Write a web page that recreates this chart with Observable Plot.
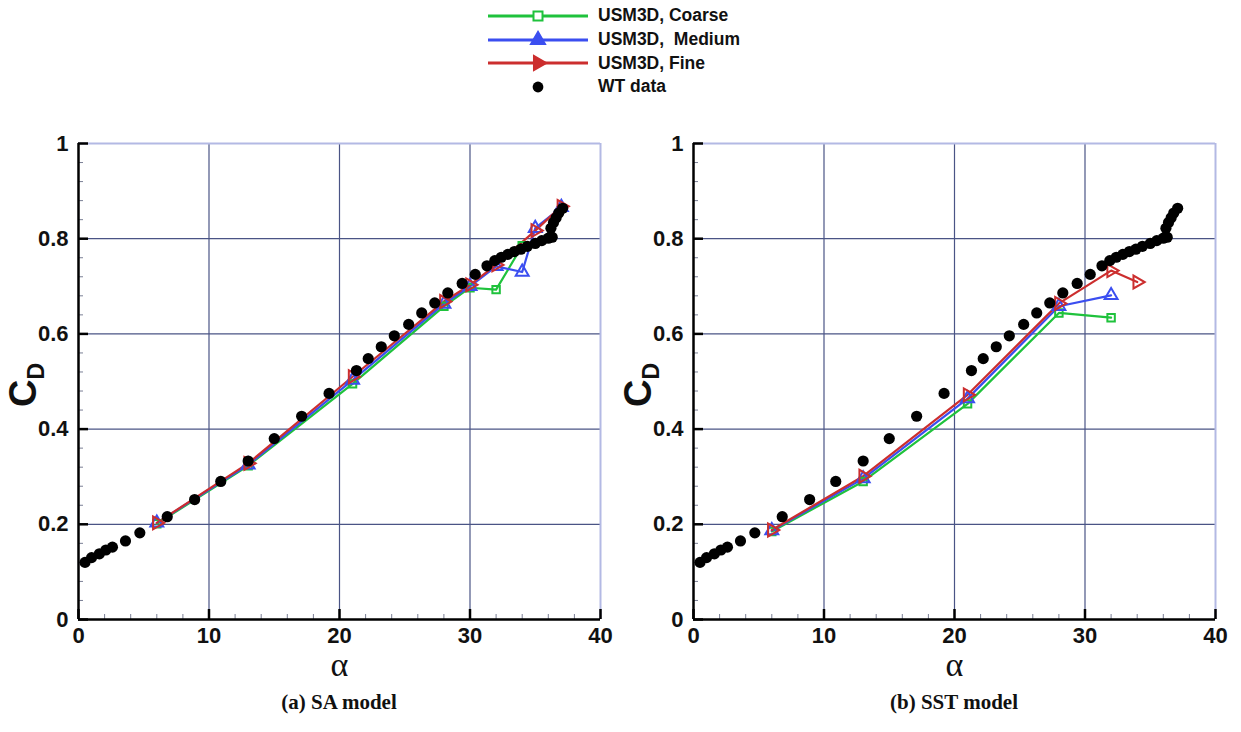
<!DOCTYPE html>
<html><head><meta charset="utf-8">
<script src="https://cdn.jsdelivr.net/npm/d3@7"></script>
<script src="https://cdn.jsdelivr.net/npm/@observablehq/plot@0.6"></script>
<style>
body{margin:0;background:#fff;width:1241px;height:732px;position:relative;overflow:hidden;font-family:"Liberation Sans",Arial,sans-serif;}
#legend{position:absolute;left:488px;top:4px;}
.row{display:flex;align-items:center;height:23.7px;}
.row span{font-weight:bold;font-size:17.5px;white-space:pre;color:#111;margin-left:10px}
.panel{position:absolute;top:120px;}
.cap{position:absolute;top:690px;font-family:"Liberation Serif","Times New Roman",serif;font-weight:bold;font-size:21px;transform:translateX(-50%);white-space:nowrap;color:#111}
</style></head><body>
<div id="legend"></div>
<div id="left" class="panel" style="left:0"></div>
<div id="right" class="panel" style="left:615px"></div>
<div class="cap" style="left:339px">(a) SA model</div>
<div class="cap" style="left:954px">(b) SST model</div>
<script>
// ---- data ----
const seriesNames = ["USM3D, Coarse", "USM3D,  Medium", "USM3D, Fine", "WT data"];
const xTicks = [0, 10, 20, 30, 40];
const yTicks = [0, 0.2, 0.4, 0.6, 0.8, 1];

const wtAlpha = [0.5,1.0,1.6,2.1,2.6,3.6,4.7,6.8,8.9,10.9,13.0,15.0,17.1,19.2,21.3,22.2,23.2,24.2,25.3,26.3,27.3,28.3,29.4,30.4,31.3,31.9,32.4,32.9,33.4,33.9,34.4,35.0,35.5,36.0,36.3,36.2,36.4,36.6,36.8,37.1];
const wtCD    = [0.120,0.130,0.138,0.146,0.152,0.165,0.182,0.216,0.252,0.290,0.333,0.380,0.427,0.475,0.523,0.548,0.573,0.596,0.620,0.644,0.665,0.686,0.706,0.725,0.743,0.754,0.761,0.767,0.773,0.778,0.784,0.790,0.796,0.801,0.803,0.822,0.834,0.844,0.854,0.864];

// SA model
const saCoarseAlpha = [6, 13, 21, 28, 30, 32, 34];
const saCoarseCD    = [0.201, 0.323, 0.495, 0.658, 0.697, 0.693, 0.785];
const saMediumAlpha = [6, 13, 21, 28, 30, 32, 34, 35, 37];
const saMediumCD    = [0.203, 0.325, 0.503, 0.663, 0.700, 0.742, 0.730, 0.822, 0.866];
const saFineAlpha   = [6, 13, 21, 28, 30, 32, 35, 37];
const saFineCD      = [0.203, 0.328, 0.510, 0.668, 0.703, 0.745, 0.817, 0.868];

// SST model
const sstCoarseAlpha = [6, 13, 21, 28, 32];
const sstCoarseCD    = [0.185, 0.290, 0.453, 0.644, 0.634];
const sstMediumAlpha = [6, 13, 21, 28, 32];
const sstMediumCD    = [0.187, 0.296, 0.464, 0.658, 0.681];
const sstFineAlpha   = [6, 13, 21, 28, 32, 34];
const sstFineCD      = [0.188, 0.301, 0.472, 0.664, 0.733, 0.709];

const colors = {coarse: "#1fc23c", medium: "#3b4ef0", fine: "#cc2e2e"};

// ---- helpers ----
const pts = (a, c) => a.map((x, i) => ({x, y: c[i]}));
const wt = pts(wtAlpha, wtCD);
const W = 620, H = 590, mL = 78, mR = 20, mT = 23, mB = 91;
const fw = W - mL - mR, fh = H - mT - mB;
const minorX = d3.range(0, 40.001, 2).filter(v => Math.round(v) % 10 !== 0);
const minorY = d3.range(0, 1.0001, 0.04).filter(v => Math.abs(v * 5 - Math.round(v * 5)) > 1e-6);

function panel(coarse, medium, fine) {
  const svg = Plot.plot({
    width: W, height: H, marginLeft: mL, marginRight: mR, marginTop: mT, marginBottom: mB,
    x: {domain: [0, 40]}, y: {domain: [0, 1]},
    style: {fontFamily: "'Liberation Sans', Arial, sans-serif", fontSize: "22px", fontWeight: "bold", color: "#111", background: "transparent"},
    marks: [
      Plot.gridX({ticks: xTicks.filter(v => v > 0 && v < 40), stroke: "#4a5485", strokeOpacity: 1, strokeWidth: 1.2}),
      Plot.gridY({ticks: yTicks.filter(v => v > 0 && v < 1), stroke: "#4a5485", strokeOpacity: 1, strokeWidth: 1.2}),
      Plot.ruleY([1], {stroke: "#b3b9e4", strokeWidth: 2}),
      Plot.ruleX([40], {stroke: "#b3b9e4", strokeWidth: 2}),
      Plot.tickX(minorX, {x: d => d, insetTop: fh - 5, stroke: "#7a7f95", strokeWidth: 1}),
      Plot.tickY(minorY, {y: d => d, insetRight: fw - 5, stroke: "#7a7f95", strokeWidth: 1}),
      Plot.tickX(xTicks, {x: d => d, insetTop: fh - 10, stroke: "#000", strokeWidth: 2.5}),
      Plot.tickY(yTicks, {y: d => d, insetRight: fw - 10, stroke: "#000", strokeWidth: 2.5}),
      Plot.ruleX([0], {stroke: "#000", strokeWidth: 2.5}),
      Plot.ruleY([0], {stroke: "#000", strokeWidth: 2.5}),
      Plot.axisX({ticks: xTicks, tickSize: 0, tickPadding: 8, tickFormat: d => String(d), label: null}),
      Plot.axisY({ticks: yTicks, tickSize: 0, tickPadding: 10, tickFormat: d => String(d), label: null}),
      Plot.line(coarse, {x: "x", y: "y", stroke: colors.coarse, strokeWidth: 2.2}),
      Plot.line(medium, {x: "x", y: "y", stroke: colors.medium, strokeWidth: 2.2}),
      Plot.line(fine, {x: "x", y: "y", stroke: colors.fine, strokeWidth: 2.2}),
      Plot.dot(coarse, {x: "x", y: "y", symbol: "square", r: 4.2, stroke: colors.coarse, strokeWidth: 2, fill: "none"}),
      Plot.dot(medium, {x: "x", y: "y", symbol: "triangle", r: 4.8, stroke: colors.medium, strokeWidth: 2, fill: "none"}),
      Plot.dot(fine, {x: "x", y: "y", symbol: "triangle", rotate: 90, r: 4.8, stroke: colors.fine, strokeWidth: 2, fill: "none"}),
      Plot.dot(wt, {x: "x", y: "y", r: 5.6, fill: "#000"}),
      Plot.text(["α"], {frameAnchor: "bottom", dy: 46, text: d => d, fontFamily: "'Liberation Serif', 'Times New Roman', serif", fontSize: 34, fontWeight: "normal", lineAnchor: "middle", fill: "#111"})
    ]
  });
  const t = d3.select(svg).append("text")
    .attr("transform", `translate(36,${mT + fh / 2 + 4}) rotate(-90)`)
    .attr("text-anchor", "middle")
    .attr("font-family", "'Liberation Sans', Arial, sans-serif")
    .attr("font-weight", "bold").attr("fill", "#111");
  t.append("tspan").attr("font-size", 38).text("C");
  t.append("tspan").attr("font-size", 23).attr("dy", 8).text("D");
  return svg;
}

document.getElementById("left").append(panel(pts(saCoarseAlpha, saCoarseCD), pts(saMediumAlpha, saMediumCD), pts(saFineAlpha, saFineCD)));
document.getElementById("right").append(panel(pts(sstCoarseAlpha, sstCoarseCD), pts(sstMediumAlpha, sstMediumCD), pts(sstFineAlpha, sstFineCD)));

// ---- legend ----
const markerSvg = [
  `<rect x="45.5" y="6.5" width="9" height="9" fill="#fff" stroke="${colors.coarse}" stroke-width="2"/>`,
  `<path d="${d3.symbol(d3.symbolTriangle, 95)()}" transform="translate(50,11)" fill="${colors.medium}" stroke="${colors.medium}" stroke-width="1.5"/>`,
  `<path d="${d3.symbol(d3.symbolTriangle, 95)()}" transform="translate(50,11) rotate(90)" fill="${colors.fine}" stroke="${colors.fine}" stroke-width="1.5"/>`,
  `<circle cx="50" cy="11" r="5.4" fill="#000"/>`
];
const lineColors = [colors.coarse, colors.medium, colors.fine, null];
const leg = document.getElementById("legend");
seriesNames.forEach((name, i) => {
  const row = document.createElement("div");
  row.className = "row";
  const line = lineColors[i] ? `<line x1="0" x2="100" y1="11" y2="11" stroke="${lineColors[i]}" stroke-width="3"/>` : "";
  row.innerHTML = `<svg width="100" height="22">${line}${markerSvg[i]}</svg><span>${name}</span>`;
  leg.append(row);
});
</script>
</body></html>
